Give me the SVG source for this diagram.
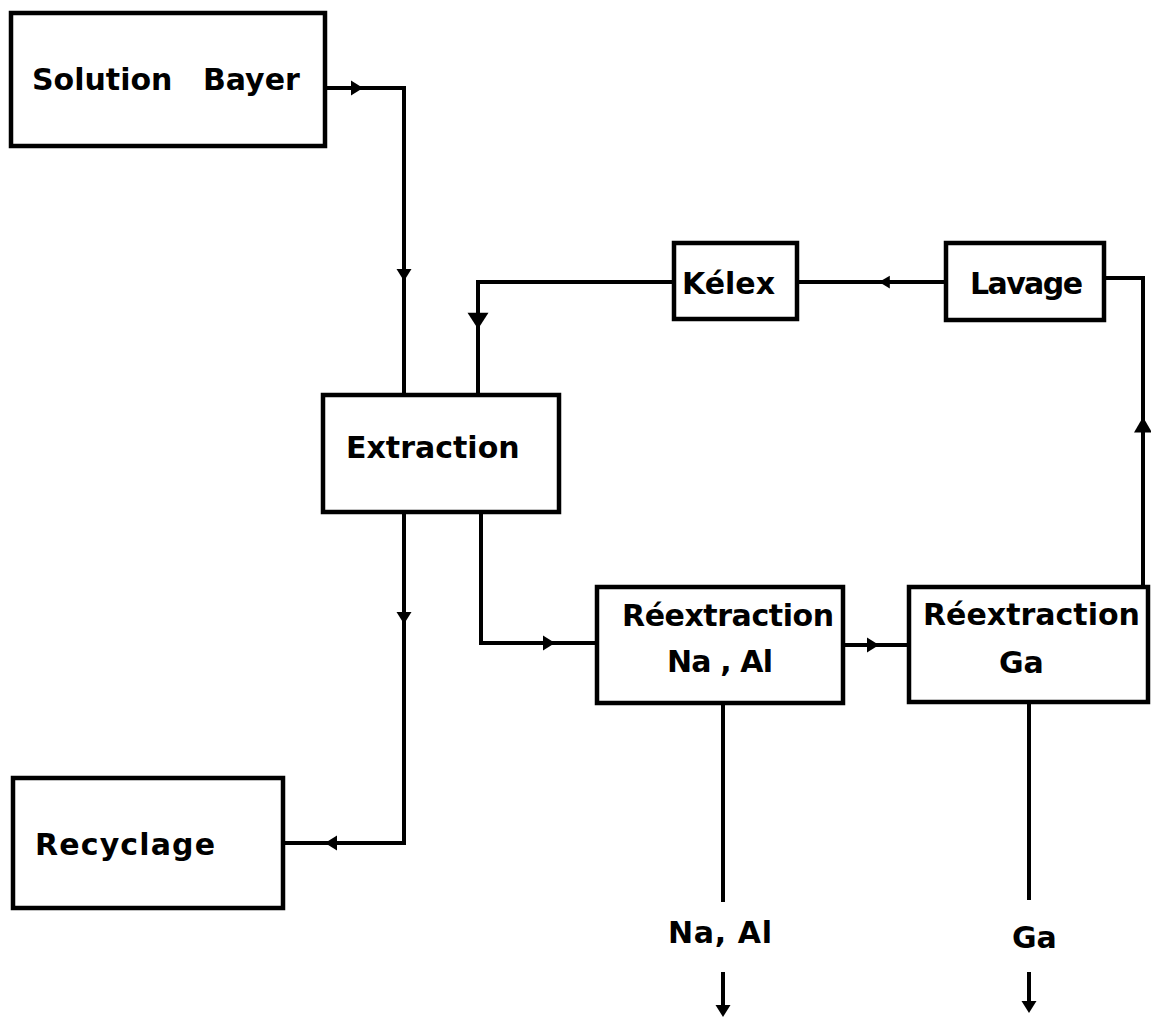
<svg xmlns="http://www.w3.org/2000/svg" xmlns:xlink="http://www.w3.org/1999/xlink" width="1151" height="1017" viewBox="0 0 1151 1017">
<style>
.box{fill:#fff;stroke:#000;stroke-width:4.5}
.lbl{font-family:"DejaVu Sans","Liberation Sans",sans-serif;font-weight:bold;font-size:30px;fill:#000}
.ln{fill:none;stroke:#000;stroke-width:4;stroke-linejoin:miter}
.ah{fill:#000}
</style>
<defs>
<path id="ah" d="M0,0 L-12,-7.5 L-12,7.5 Z"/>
</defs>
<rect width="1151" height="1017" fill="#fff"/>
<g id="connectors">
<path class="ln" d="M325,88 H404 V395"/>
<use xlink:href="#ah" class="ah" transform="translate(363,88)"/>
<use xlink:href="#ah" class="ah" transform="translate(404,281) rotate(90)"/>
<path class="ln" d="M404,512 V843 H283"/>
<use xlink:href="#ah" class="ah" transform="translate(404,624) rotate(90)"/>
<use xlink:href="#ah" class="ah" transform="translate(325,843) rotate(180)"/>
<path class="ln" d="M481,512 V643 H597"/>
<use xlink:href="#ah" class="ah" transform="translate(555,643)"/>
<path class="ln" d="M843,645 H909"/>
<use xlink:href="#ah" class="ah" transform="translate(879,645)"/>
<path class="ln" d="M1143,587 V278 H1104"/>
<use xlink:href="#ah" class="ah" transform="translate(1143,417) rotate(-90) scale(1.3,1.2)"/>
<path class="ln" d="M946,282 H797"/>
<use xlink:href="#ah" class="ah" transform="translate(879,282) rotate(180) scale(0.9,0.85)"/>
<path class="ln" d="M674,282 H478 V395"/>
<use xlink:href="#ah" class="ah" transform="translate(478,329) rotate(90) scale(1.35,1.4)"/>
<path class="ln" d="M723,703 V902"/>
<path class="ln" d="M1029,702 V900"/>
<path class="ln" d="M723,972 V1008"/>
<use xlink:href="#ah" class="ah" transform="translate(723,1017) rotate(90)"/>
<path class="ln" d="M1029,972 V1004"/>
<use xlink:href="#ah" class="ah" transform="translate(1029,1013) rotate(90)"/>
</g>
<g id="solution-bayer">
<rect class="box" x="11" y="13" width="314" height="133"/>
<text class="lbl" x="32" y="90" word-spacing="20">Solution Bayer</text>
</g>
<g id="extraction">
<rect class="box" x="323" y="395" width="236" height="117"/>
<text class="lbl" x="346" y="458">Extraction</text>
</g>
<g id="kelex">
<rect class="box" x="674" y="243" width="123" height="76"/>
<text class="lbl" x="682" y="294">Kélex</text>
</g>
<g id="lavage">
<rect class="box" x="946" y="243" width="158" height="77"/>
<text class="lbl" x="970" y="294" textLength="113" lengthAdjust="spacing">Lavage</text>
</g>
<g id="reextraction-na-al">
<rect class="box" x="597" y="587" width="246" height="116"/>
<text class="lbl" x="622" y="626" textLength="212" lengthAdjust="spacing">Réextraction</text>
<text class="lbl" x="667" y="672" textLength="106" lengthAdjust="spacing">Na , Al</text>
</g>
<g id="reextraction-ga">
<rect class="box" x="909" y="587" width="239" height="115"/>
<text class="lbl" x="923" y="625">Réextraction</text>
<text class="lbl" x="999" y="673">Ga</text>
</g>
<g id="recyclage">
<rect class="box" x="13" y="778" width="270" height="130"/>
<text class="lbl" x="35" y="855" textLength="180" lengthAdjust="spacing">Recyclage</text>
</g>
<g id="output-na-al">
<text class="lbl" x="668" y="943" textLength="104" lengthAdjust="spacing">Na, Al</text>
</g>
<g id="output-ga">
<text class="lbl" x="1012" y="948">Ga</text>
</g>
</svg>
